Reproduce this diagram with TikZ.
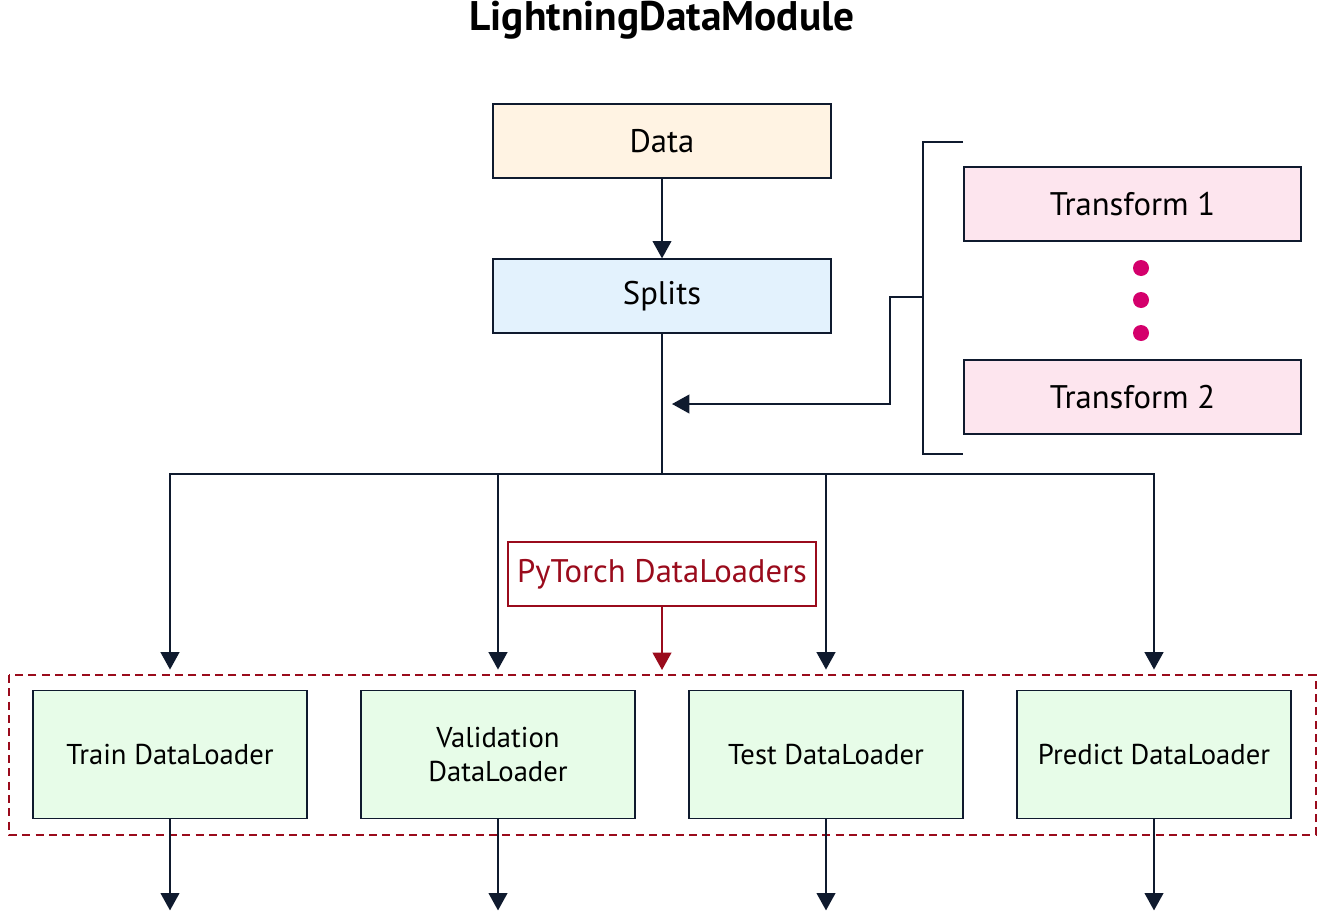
\documentclass[tikz,border=0pt]{standalone}
\usepackage{fontspec}
\setmainfont{PT Sans}
\usepackage{tikz}
\usetikzlibrary{positioning,arrows.meta,calc}
\definecolor{navy}{HTML}{0F1A2E}
\definecolor{torchred}{HTML}{9A0B1C}
\definecolor{dotpink}{HTML}{D4006C}
\definecolor{datafill}{HTML}{FFF3E3}
\definecolor{splitfill}{HTML}{E3F2FD}
\definecolor{tffill}{HTML}{FDE5EE}
\definecolor{loaderfill}{HTML}{E7FCE8}
\tikzstyle{stage} = [rectangle, draw=navy, line width=1.4pt, minimum width=253pt, minimum height=55pt, text=black, font=\fontsize{24.5}{29}\selectfont]
\tikzstyle{loader} = [rectangle, draw=navy, line width=1.4pt, fill=loaderfill, minimum width=206pt, minimum height=96pt, align=center, font=\fontsize{21.5}{25.5}\selectfont]
\tikzstyle{torch} = [rectangle, draw=torchred, line width=1.4pt, text=torchred, minimum width=231pt, minimum height=48pt, font=\fontsize{24.5}{29}\selectfont]
\tikzstyle{arrow} = [draw=navy, line width=1.4pt, -{Triangle[width=14pt,length=13pt]}]
\tikzstyle{link} = [draw=navy, line width=1.4pt]

\begin{document}
\begin{tikzpicture}[x=0.75pt, y=-0.75pt]
    \useasboundingbox (0,0) rectangle (1328,917);
    \node[font=\fontsize{31}{36}\selectfont\bfseries] (title) at (662,20) {LightningDataModule};
    \node[stage, fill=datafill] (data) at (662,141) {Data};
    \node[stage, fill=splitfill] (splits) at (662,296) {Splits};
    \node[stage, fill=tffill] (tf1) at (1132.5,204) {Transform 1};
    \node[stage, fill=tffill] (tf2) at (1132.5,397) {Transform 2};
    \foreach \y in {268,300,333}
        \fill[dotpink] (1141,\y) circle (6pt);
    \node[torch] (torch) at (662,574) {PyTorch DataLoaders};
    \node[loader] (train) at (170,754.5) {Train DataLoader};
    \node[loader] (valid) at (498,754.5) {Validation\\DataLoader};
    \node[loader] (test) at (826,754.5) {Test DataLoader};
    \node[loader] (pred) at (1154,754.5) {Predict DataLoader};
    \draw[torchred, line width=1.2pt, dash pattern=on 6pt off 4pt] (9,675) rectangle (1316,835);
    % bracket round the transforms
    \coordinate (brtop) at (963,142);
    \coordinate (brbot) at (963,454);
    \coordinate (brmid) at (923,297);
    \coordinate (apply) at (672,404);
    \draw[link] (brtop) -- (923,142) -- (923,454) -- (brbot);
    \draw[arrow] (brmid) -- (890,297) -- (890,404) -- (apply);
    \draw[arrow] (data) -- (splits);
    \coordinate (join) at (662,474);
    \draw[link] (splits) -- (join);
    \foreach \n in {train,valid,test,pred} {
        \coordinate (in\n) at ($(\n.north)+(0,-20)$);
        \coordinate (out\n) at ($(\n.south)+(0,91)$);
        \draw[arrow] (join) -| (in\n);
        \draw[arrow] (\n) -- (out\n);
    }
    \draw[draw=torchred, line width=1.4pt, -{Triangle[width=14pt,length=13pt]}] (torch) -- (662,670);
\end{tikzpicture}
\end{document}
